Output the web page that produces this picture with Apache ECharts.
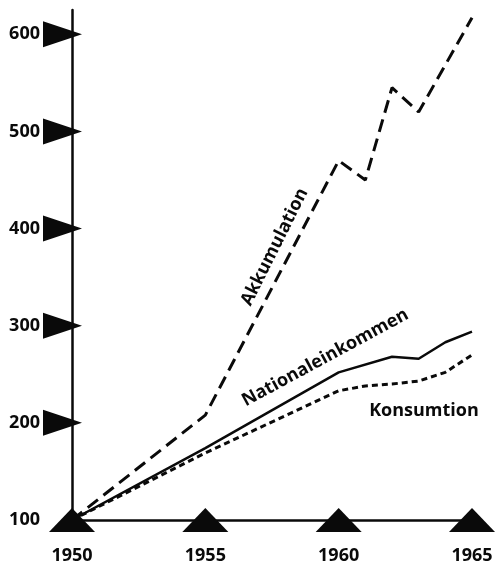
<!DOCTYPE html>
<html>
<head>
<meta charset="utf-8">
<script src="https://cdn.jsdelivr.net/npm/echarts@6/dist/echarts.min.js"></script>
<style>
html,body{margin:0;padding:0;background:#fff;}
#c{width:496px;height:566px;}
</style>
</head>
<body>
<div id="c"></div>
<script>
// Data (index, 1950 = 100)
const akkumulation = [[1950,100],[1955,208],[1960,470],[1961,450],[1962,545],[1963,520],[1965,617]];
const nationaleinkommen = [[1950,100],[1955,174],[1960,252],[1962,268],[1963,266],[1964,283],[1965,294]];
const konsumtion = [[1950,100],[1955,169],[1960,233],[1961,238],[1962,240],[1963,243],[1964,252],[1965,270]];
const xTickYears = [1950,1955,1960,1965];
const yTickValues = [200,300,400,500,600];
const seriesNames = ['Akkumulation','Nationaleinkommen','Konsumtion'];
// label anchors in data coordinates, with rotation in degrees
const labelAnchors = [[1957.6,381,63.4],[1959.5,267,28.4],[1963.2,212,0]];

const FONT = '"Open Sans", "DejaVu Sans", sans-serif';
const INK = '#0a0a0a';
const chart = echarts.init(document.getElementById('c'), null, {renderer:'canvas'});
const option = {
  animation:false,
  backgroundColor:'#fff',
  grid:{left:72,right:24,top:10,bottom:46},
  xAxis:{
    type:'value',min:1950,max:1965,interval:5,
    axisLine:{show:true,lineStyle:{color:INK,width:2.5}},
    axisTick:{show:false},splitLine:{show:false},
    axisLabel:{color:INK,fontFamily:FONT,fontWeight:'bold',fontSize:18,margin:27,
      formatter:v=>String(v)}
  },
  yAxis:{
    type:'value',min:100,max:625,interval:100,
    axisLine:{show:true,lineStyle:{color:INK,width:2.5}},
    axisTick:{show:false},splitLine:{show:false},
    axisLabel:{color:INK,fontFamily:FONT,fontWeight:'bold',fontSize:18,margin:32,
      showMaxLabel:false, formatter:v=>String(v)}
  },
  series:[
    {name:seriesNames[0],type:'line',data:akkumulation,symbol:'none',z:3,
      lineStyle:{color:INK,width:3,type:[13,7]}},
    {name:seriesNames[1],type:'line',data:nationaleinkommen,symbol:'none',z:3,
      lineStyle:{color:INK,width:2.5,type:'solid'}},
    {name:seriesNames[2],type:'line',data:konsumtion,symbol:'none',z:3,
      lineStyle:{color:INK,width:3,type:[6,4]}},
    {type:'scatter',data:xTickYears.map(y=>[y,100]),symbol:'triangle',symbolSize:[46,24],
      itemStyle:{color:INK,opacity:1},clip:false,z:4,silent:true},
    {type:'scatter',data:yTickValues.map(v=>[1950,v]),symbol:'triangle',symbolSize:[26,39],
      symbolRotate:-90,symbolOffset:[-9.5,0],itemStyle:{color:INK,opacity:1},clip:false,z:4,silent:true}
  ]
};
chart.setOption(option);
const graphics = labelAnchors.map((a,i)=>{
  const p = chart.convertToPixel({gridIndex:0},[a[0],a[1]]);
  return {type:'text',x:p[0],y:p[1],rotation:a[2]*Math.PI/180,z:10,
    style:{text:seriesNames[i],x:0,y:0,align:'center',verticalAlign:'middle',
      fill:INK,font:'bold 18px '+FONT}};
});
chart.setOption({graphic:graphics});
</script>
</body>
</html>
